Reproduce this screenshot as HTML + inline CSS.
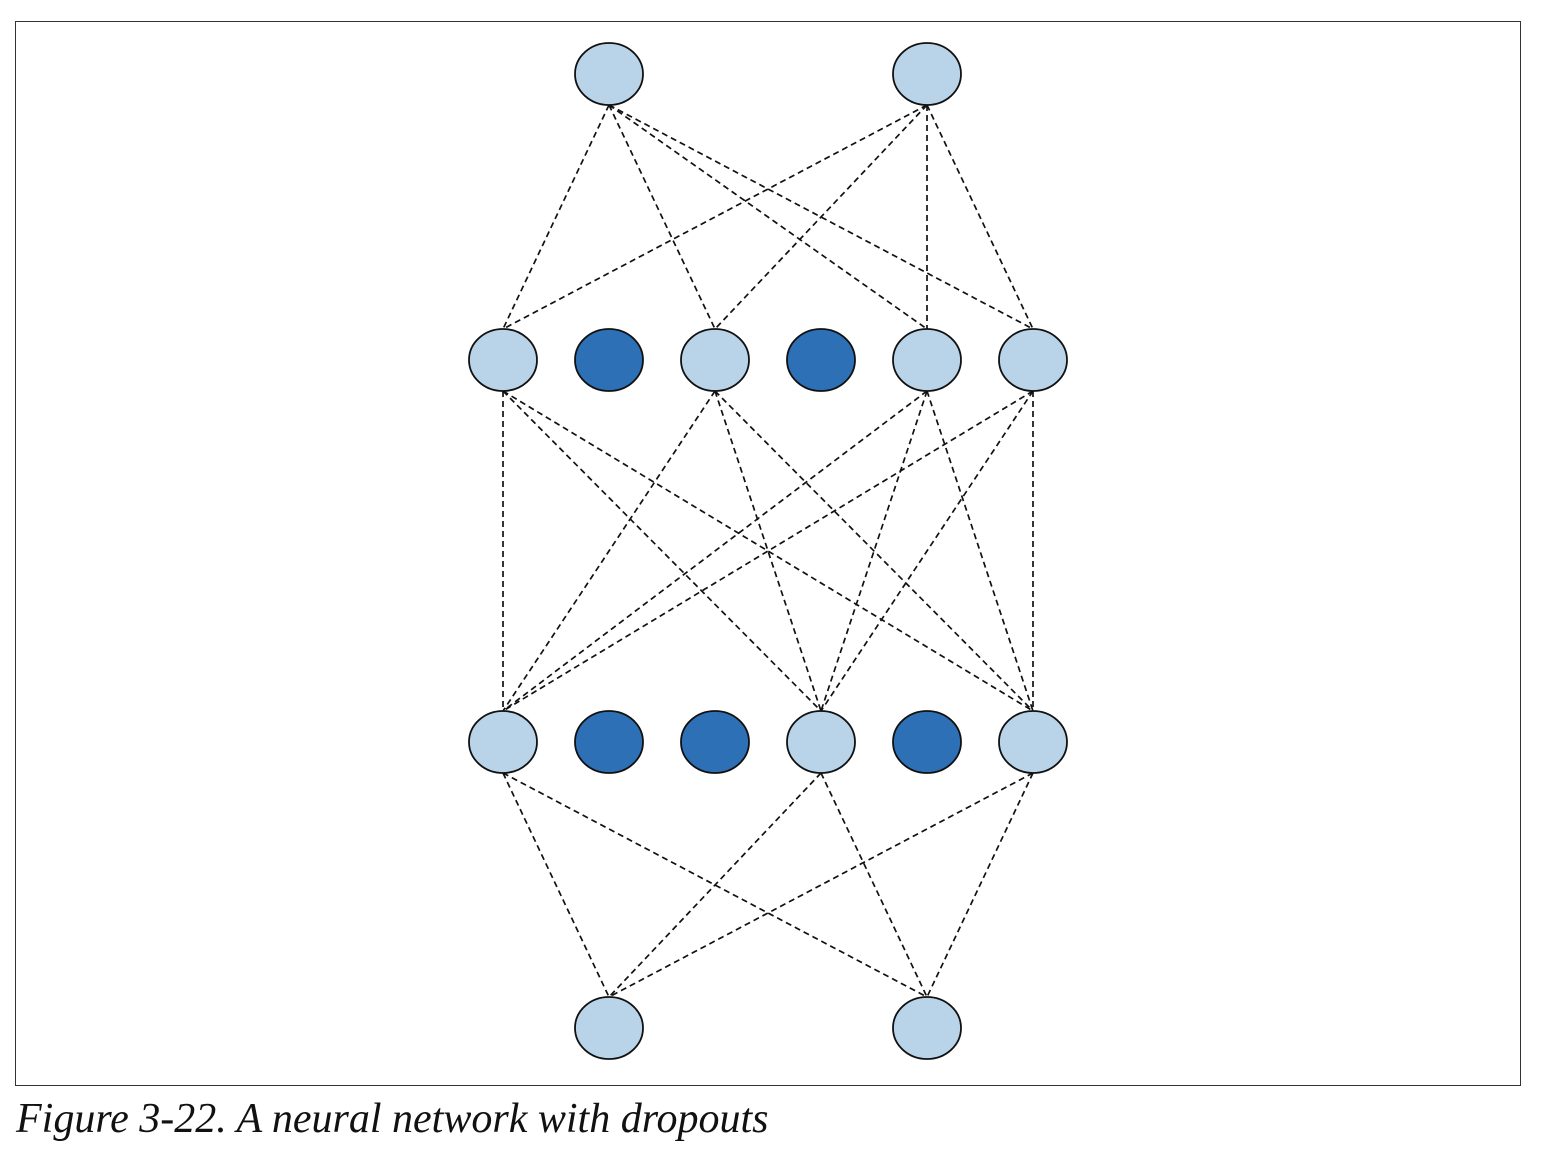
<!DOCTYPE html>
<html><head><style>
body{margin:0;background:#fff;width:1542px;height:1162px;overflow:hidden;}
.cap{position:absolute;left:16px;top:1095px;font-family:"Liberation Serif",serif;font-style:italic;font-size:42px;color:#111;white-space:nowrap;}
</style></head><body>
<svg width="1542" height="1162" style="position:absolute;left:0;top:0">
<rect x="15.5" y="21.5" width="1505" height="1064" fill="none" stroke="#333" stroke-width="1"/>
<g stroke="#111" stroke-width="1.7" stroke-dasharray="6,4" fill="none">
<line x1="609" y1="105" x2="503" y2="329"/><line x1="609" y1="105" x2="715" y2="329"/>
<line x1="609" y1="105" x2="927" y2="329"/><line x1="609" y1="105" x2="1033" y2="329"/>
<line x1="927" y1="105" x2="503" y2="329"/><line x1="927" y1="105" x2="715" y2="329"/>
<line x1="927" y1="105" x2="927" y2="329"/><line x1="927" y1="105" x2="1033" y2="329"/>
<line x1="503" y1="391" x2="503" y2="711"/><line x1="503" y1="391" x2="821" y2="711"/><line x1="503" y1="391" x2="1033" y2="711"/>
<line x1="715" y1="391" x2="503" y2="711"/><line x1="715" y1="391" x2="821" y2="711"/><line x1="715" y1="391" x2="1033" y2="711"/>
<line x1="927" y1="391" x2="503" y2="711"/><line x1="927" y1="391" x2="821" y2="711"/><line x1="927" y1="391" x2="1033" y2="711"/>
<line x1="1033" y1="391" x2="503" y2="711"/><line x1="1033" y1="391" x2="821" y2="711"/><line x1="1033" y1="391" x2="1033" y2="711"/>
<line x1="503" y1="773" x2="609" y2="997"/><line x1="503" y1="773" x2="927" y2="997"/>
<line x1="821" y1="773" x2="609" y2="997"/><line x1="821" y1="773" x2="927" y2="997"/>
<line x1="1033" y1="773" x2="609" y2="997"/><line x1="1033" y1="773" x2="927" y2="997"/>
</g>
<g stroke="#111" stroke-width="1.8">
<ellipse cx="609" cy="74" rx="34" ry="31" fill="#b9d3e8"/>
<ellipse cx="927" cy="74" rx="34" ry="31" fill="#b9d3e8"/>
<ellipse cx="503" cy="360" rx="34" ry="31" fill="#b9d3e8"/>
<ellipse cx="609" cy="360" rx="34" ry="31" fill="#2d70b5"/>
<ellipse cx="715" cy="360" rx="34" ry="31" fill="#b9d3e8"/>
<ellipse cx="821" cy="360" rx="34" ry="31" fill="#2d70b5"/>
<ellipse cx="927" cy="360" rx="34" ry="31" fill="#b9d3e8"/>
<ellipse cx="1033" cy="360" rx="34" ry="31" fill="#b9d3e8"/>
<ellipse cx="503" cy="742" rx="34" ry="31" fill="#b9d3e8"/>
<ellipse cx="609" cy="742" rx="34" ry="31" fill="#2d70b5"/>
<ellipse cx="715" cy="742" rx="34" ry="31" fill="#2d70b5"/>
<ellipse cx="821" cy="742" rx="34" ry="31" fill="#b9d3e8"/>
<ellipse cx="927" cy="742" rx="34" ry="31" fill="#2d70b5"/>
<ellipse cx="1033" cy="742" rx="34" ry="31" fill="#b9d3e8"/>
<ellipse cx="609" cy="1028" rx="34" ry="31" fill="#b9d3e8"/>
<ellipse cx="927" cy="1028" rx="34" ry="31" fill="#b9d3e8"/>
</g>
</svg>
<div class="cap">Figure 3-22. A neural network with dropouts</div>
</body></html>
